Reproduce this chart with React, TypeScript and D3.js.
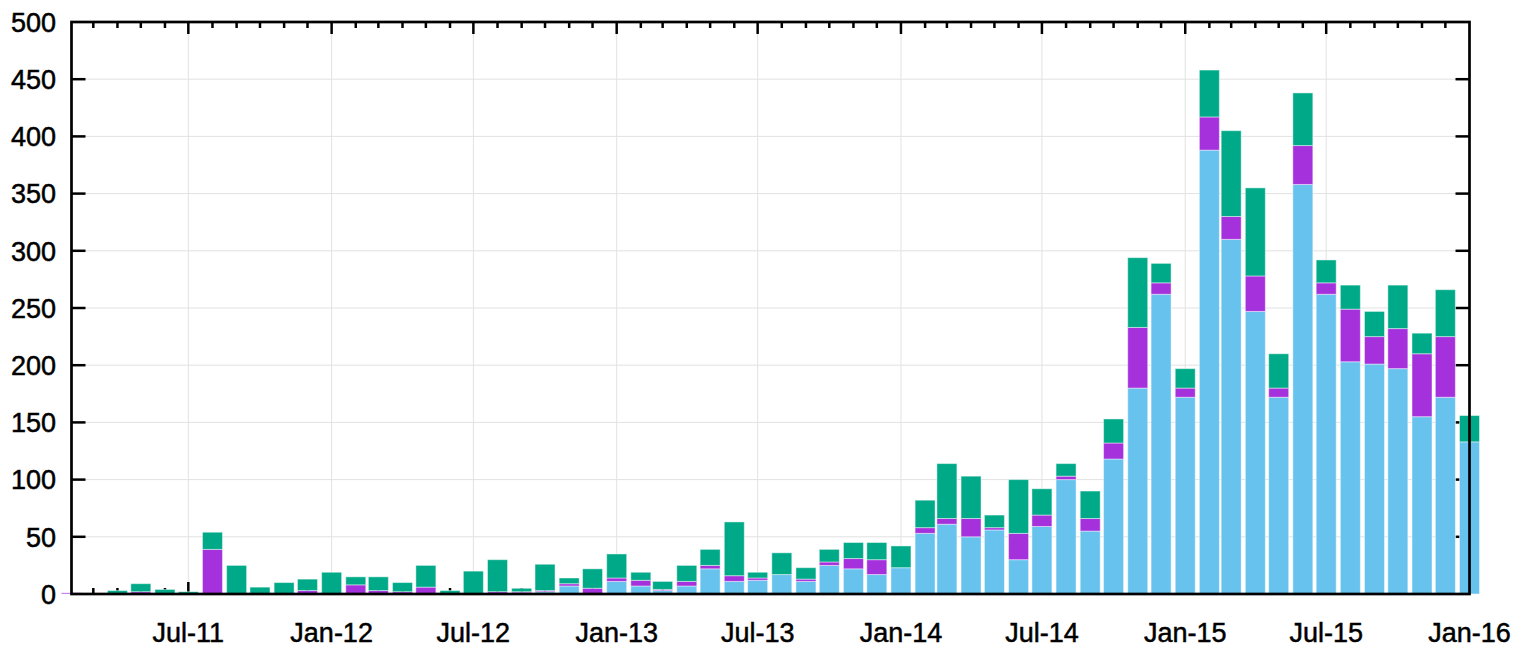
import React from 'react';
import * as d3 from 'd3';

// monthly counts, Feb-11 .. Jan-16 (one row per year)
const months = d3.utcMonth.range(new Date(Date.UTC(2011, 1, 1)), new Date(Date.UTC(2016, 1, 1)));

const blue = [
  0, 0, 0, 0, 0, 0, 0, 0, 0, 0, 0,
  0, 0, 0, 0, 0, 0, 0, 0, 1, 2, 7, 0,
  11, 7, 3, 7, 22, 11, 12, 17, 11, 25, 22, 17,
  23, 53, 61, 50, 56, 30, 59, 100, 55, 118, 180, 262,
  172, 388, 310, 247, 172, 358, 262, 203, 201, 197, 155, 172,
  133,
];
const purple = [
  1, 0, 0, 2, 0, 0, 39, 0, 0, 0, 3,
  0, 8, 3, 2, 6, 0, 0, 2, 1, 1, 2, 5,
  3, 5, 1, 4, 3, 5, 2, 0, 2, 3, 9, 13,
  0, 5, 5, 16, 2, 23, 10, 3, 11, 14, 53, 10,
  8, 29, 20, 31, 8, 34, 10, 46, 24, 35, 55, 53,
  0,
];
const green = [
  0, 0, 3, 7, 4, 2, 15, 25, 6, 10, 10,
  19, 7, 12, 8, 19, 3, 20, 28, 3, 23, 5, 17,
  21, 7, 7, 14, 14, 47, 5, 19, 10, 11, 14, 15,
  19, 24, 48, 37, 11, 47, 23, 11, 24, 21, 61, 17,
  17, 41, 75, 77, 30, 46, 20, 21, 22, 38, 18, 41,
  23,
];

const seriesKeys = ['blue', 'purple', 'green'];
const colors: Record<string, string> = { blue: '#67c2ee', purple: '#a431dc', green: '#00aa88' };
const yTicks = [0, 50, 100, 150, 200, 250, 300, 350, 400, 450, 500];

const W = 1515, H = 647;
const left = 71.5, right = 1469.5, top = 22, bottom = 594;

export default function App() {
  const x = d3.scaleUtc()
    .domain([new Date(Date.UTC(2011, 1, 1)), new Date(Date.UTC(2016, 0, 1))])
    .range([left, right]);
  const y = d3.scaleLinear().domain([0, 500]).range([bottom, top]);

  const rows = months.map((m, i) => ({ date: m, blue: blue[i], purple: purple[i], green: green[i] }));
  const stacked = d3.stack<any>().keys(seriesKeys)(rows);

  const tickMonths = d3.utcMonth.range(new Date(Date.UTC(2011, 2, 1)), new Date(Date.UTC(2016, 0, 1)));
  const majors = d3.utcMonth.every(6)!.range(new Date(Date.UTC(2011, 5, 1)), new Date(Date.UTC(2016, 0, 2)));
  const fmt = d3.utcFormat('%b-%y');
  const barW = 20;
  const font = '"Liberation Sans", Arial, sans-serif';

  return (
    <svg width={W} height={H} style={{ position: 'absolute', left: 0, top: 0 }}>
      <rect width={W} height={H} fill="#fff" />
      {/* grid */}
      <g stroke="#e2e2e2" strokeWidth={1}>
        {yTicks.slice(1, -1).map(t => (
          <line key={t} x1={left} x2={right} y1={y(t)} y2={y(t)} />
        ))}
        {majors.filter(d => x(d) < right - 2).map(d => (
          <line key={+d} x1={x(d)} x2={x(d)} y1={top} y2={bottom} />
        ))}
      </g>
      {/* ticks */}
      <g stroke="#000" strokeWidth={2.5}>
        {tickMonths.map(d => {
          const len = d.getUTCMonth() % 6 === 0 ? 12 : 6;
          return (
            <g key={+d}>
              <line x1={x(d)} x2={x(d)} y1={bottom} y2={bottom - len} />
              <line x1={x(d)} x2={x(d)} y1={top} y2={top + len} />
            </g>
          );
        })}
        {yTicks.slice(1, -1).map(t => (
          <g key={t}>
            <line x1={left} x2={left + 14} y1={y(t)} y2={y(t)} />
            <line x1={right} x2={right - 14} y1={y(t)} y2={y(t)} />
          </g>
        ))}
      </g>
      {/* bars */}
      {stacked.map(s => (
        <g key={s.key} fill={colors[s.key]} stroke="#ffffff" strokeOpacity={0.45} strokeWidth={1}>
          {s.filter(d => d[1] - d[0] > 0).map((d, i) => (
            <rect
              key={i}
              x={x(d.data.date) - barW / 2}
              y={y(d[1])}
              width={barW}
              height={y(d[0]) - y(d[1])}
            />
          ))}
        </g>
      ))}
      {/* frame */}
      <rect x={left} y={top} width={right - left} height={bottom - top} fill="none" stroke="#000" strokeWidth={2.7} />
      {/* labels */}
      <g fontFamily={font} fontSize={27} fill="#000" stroke="#000" strokeWidth={0.5}>
        {yTicks.map(t => (
          <text key={t} x={56} y={y(t)} dy="0.36em" textAnchor="end">{t}</text>
        ))}
        {majors.map(d => (
          <text key={+d} x={x(d)} y={642} textAnchor="middle">{fmt(d)}</text>
        ))}
      </g>
    </svg>
  );
}
